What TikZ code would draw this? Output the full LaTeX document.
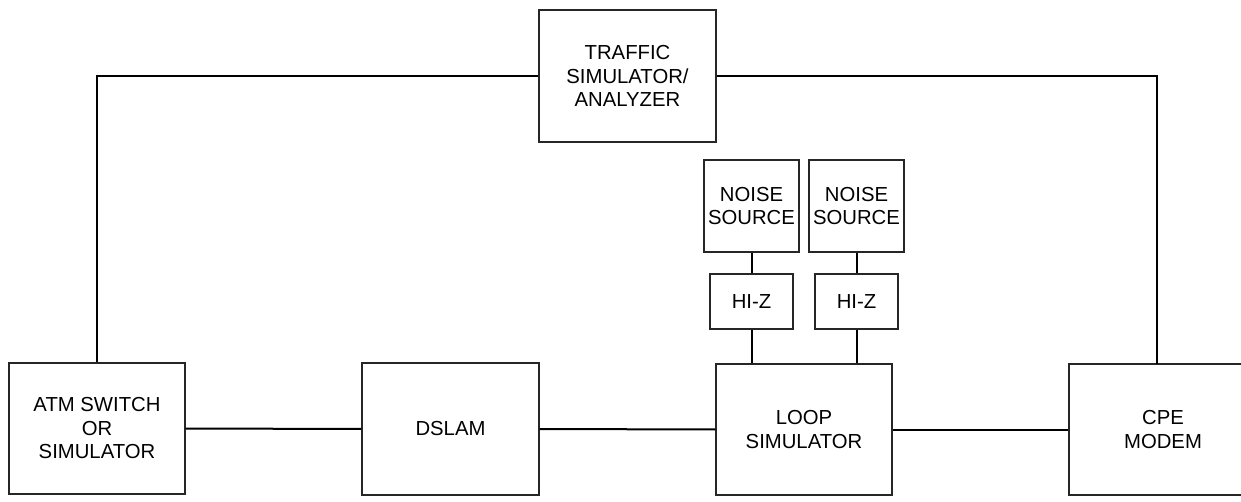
\documentclass[tikz,border=0pt]{standalone}
\usepackage{fontspec}
\setmainfont{Liberation Sans}
\begin{document}
\begin{tikzpicture}[x=1pt,y=-1pt,
  blk/.style={draw=black!85,line width=1.1pt,rectangle,inner sep=0pt,align=center,
     font=\fontsize{20.3}{23.5}\selectfont},
  wire/.style={draw=black,line width=2pt}]
\useasboundingbox (0,0) rectangle (1241,502);
\clip (0,0) rectangle (1241,502);
\node[blk,minimum width=176pt,minimum height=131pt] (atm) at (97,428.5) {ATM SWITCH\\OR\\SIMULATOR};
\node[blk,minimum width=177pt,minimum height=132pt] (dslam) at (450.5,429) {DSLAM};
\node[blk,minimum width=176pt,minimum height=131pt] (loop) at (804,429.5) {LOOP\\SIMULATOR};
\node[blk,minimum width=188pt,minimum height=131pt] (cpe) at (1163,429.5) {CPE\\MODEM};
\node[blk,minimum width=177pt,minimum height=132pt] (traffic) at (627.5,76) {TRAFFIC\\SIMULATOR/\\ANALYZER};
\node[blk,minimum width=95pt,minimum height=92pt] (noise1) at (751.5,206) {NOISE\\SOURCE};
\node[blk,minimum width=95pt,minimum height=92pt] (noise2) at (856.5,206) {NOISE\\SOURCE};
\node[blk,minimum width=83pt,minimum height=55pt] (hiz1) at (751.5,301.5) {HI-Z};
\node[blk,minimum width=83pt,minimum height=55pt] (hiz2) at (856.5,301.5) {HI-Z};
\coordinate (cpetop) at (1157,364);
\draw[wire] (atm.north) |- (traffic.west);
\draw[wire] (traffic.east) -| (cpetop);
\draw[wire] (atm.east) -- (dslam.west);
\draw[wire] (dslam.east) -- (loop.west);
\draw[wire] (loop.east) -- (cpe.west);
\draw[wire] (noise1.south) -- (hiz1.north);
\draw[wire] (noise2.south) -- (hiz2.north);
\draw[wire] (hiz1.south) -- (hiz1.south |- loop.north);
\draw[wire] (hiz2.south) -- (hiz2.south |- loop.north);
\end{tikzpicture}
\end{document}
